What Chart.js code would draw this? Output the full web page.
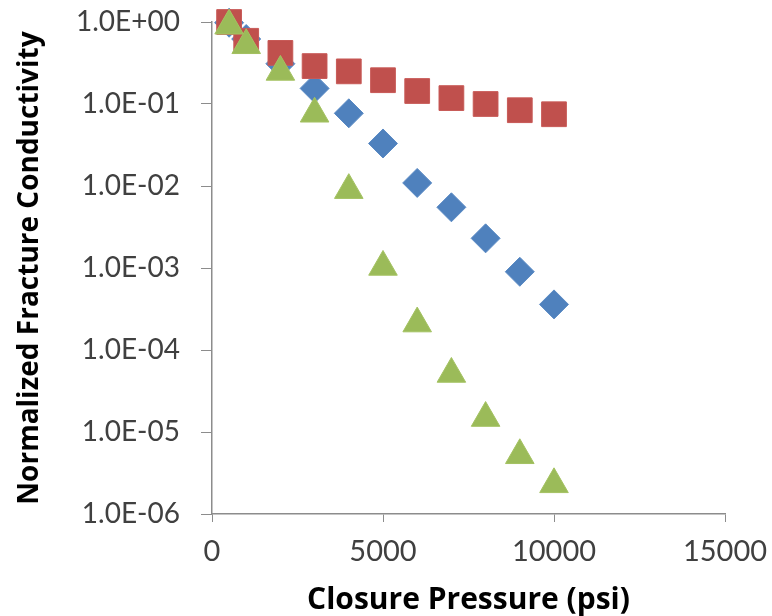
<!DOCTYPE html>
<html>
<head>
<meta charset="utf-8">
<script src="https://cdn.jsdelivr.net/npm/chart.js@4.4.1/dist/chart.umd.min.js"></script>
<style>
  html, body { margin: 0; padding: 0; background: #ffffff; }
  #wrap { width: 772px; height: 616px; }
</style>
</head>
<body>
<div id="wrap"><canvas id="grafico" width="772" height="616"></canvas></div>
<script>
// --- datos ---
const presion = [500, 1000, 2000, 3000, 4000, 5000, 6000, 7000, 8000, 9000, 10000];
const serieAzul = [0.98, 0.62, 0.31, 0.155, 0.077, 0.033, 0.0109, 0.0055, 0.0023, 0.0009, 0.00036];
const serieRoja = [1.0, 0.59, 0.42, 0.29, 0.25, 0.195, 0.144, 0.118, 0.1, 0.084, 0.075];
const serieVerde = [0.9, 0.52, 0.246, 0.076, 0.0089, 0.00103, 0.00021, 0.000051, 0.0000148, 0.0000052, 0.0000023];
const ticksY = [1, 0.1, 0.01, 0.001, 0.0001, 0.00001, 0.000001];
const ticksX = [0, 5000, 10000, 15000];

const tituloX = 'Closure Pressure (psi)';
const tituloY = 'Normalized Fracture Conductivity';

function puntos(ys) {
  return presion.map((x, i) => ({ x: x, y: ys[i] }));
}

function etiquetaExp(v) {
  const e = Math.round(Math.log10(v));
  const signo = e < 0 ? '-' : '+';
  return '1.0E' + signo + String(Math.abs(e)).padStart(2, '0');
}

// las etiquetas no deben empujar el area del grafico
function sinRelleno(scale) {
  scale.paddingTop = 0;
  scale.paddingBottom = 0;
  scale.paddingLeft = 0;
  scale.paddingRight = 0;
}

const colorEje = '#8c8c8c';

new Chart(document.getElementById('grafico'), {
  type: 'scatter',
  data: {
    datasets: [
      {
        label: 'verde',
        data: puntos(serieVerde),
        pointStyle: 'triangle',
        pointRadius: 16.5,
        backgroundColor: '#9bbb59',
        borderColor: '#a4c262',
        borderWidth: 1,
        order: 0,
        clip: false,
      },
      {
        label: 'roja',
        data: puntos(serieRoja),
        pointStyle: 'rect',
        pointRadius: 17.5,
        backgroundColor: '#c0504d',
        borderColor: '#c85a57',
        borderWidth: 1,
        order: 1,
        clip: false,
      },
      {
        label: 'azul',
        data: puntos(serieAzul),
        pointStyle: 'rectRot',
        pointRadius: 14.5,
        backgroundColor: '#4f81bd',
        borderColor: '#5a8ac4',
        borderWidth: 1,
        order: 2,
        clip: false,
      },
    ],
  },
  options: {
    responsive: false,
    animation: false,
    layout: {
      padding: { top: 22, right: 47, left: 0, bottom: 0 },
    },
    plugins: {
      legend: { display: false },
      tooltip: { enabled: false },
    },
    scales: {
      x: {
        type: 'linear',
        min: 0,
        max: 15000,
        afterBuildTicks(scale) {
          scale.ticks = ticksX.map((v) => ({ value: v }));
        },
        afterFit(scale) {
          scale.height = 616 - 514;
          sinRelleno(scale);
        },
        grid: {
          drawOnChartArea: false,
          drawTicks: true,
          tickLength: 8,
          color: colorEje,
        },
        border: { color: colorEje, width: 1.5 },
        ticks: {
          color: '#404040',
          font: { family: 'Lato, "Open Sans", sans-serif', size: 29 },
          padding: 12,
          maxRotation: 0,
          callback: (v) => String(v),
        },
        title: {
          display: true,
          text: tituloX,
          color: '#000000',
          font: { family: '"Open Sans", sans-serif', size: 30, weight: 'bold' },
          padding: { top: 0, bottom: -2 },
        },
      },
      y: {
        type: 'logarithmic',
        min: 0.000001,
        max: 1,
        afterBuildTicks(scale) {
          scale.ticks = ticksY.map((v) => ({ value: v }));
        },
        afterFit(scale) {
          scale.width = 212;
          sinRelleno(scale);
        },
        grid: {
          drawOnChartArea: false,
          drawTicks: true,
          tickLength: 11,
          color: colorEje,
        },
        border: { color: colorEje, width: 1.5 },
        ticks: {
          color: '#404040',
          font: { family: 'Lato, "Open Sans", sans-serif', size: 28 },
          padding: 21,
          callback: (v) => etiquetaExp(v),
        },
        title: {
          display: true,
          text: tituloY,
          color: '#000000',
          font: { family: '"Open Sans", sans-serif', size: 28, weight: 'bold' },
          padding: { top: 13, bottom: 0 },
        },
      },
    },
  },
});
</script>
</body>
</html>
